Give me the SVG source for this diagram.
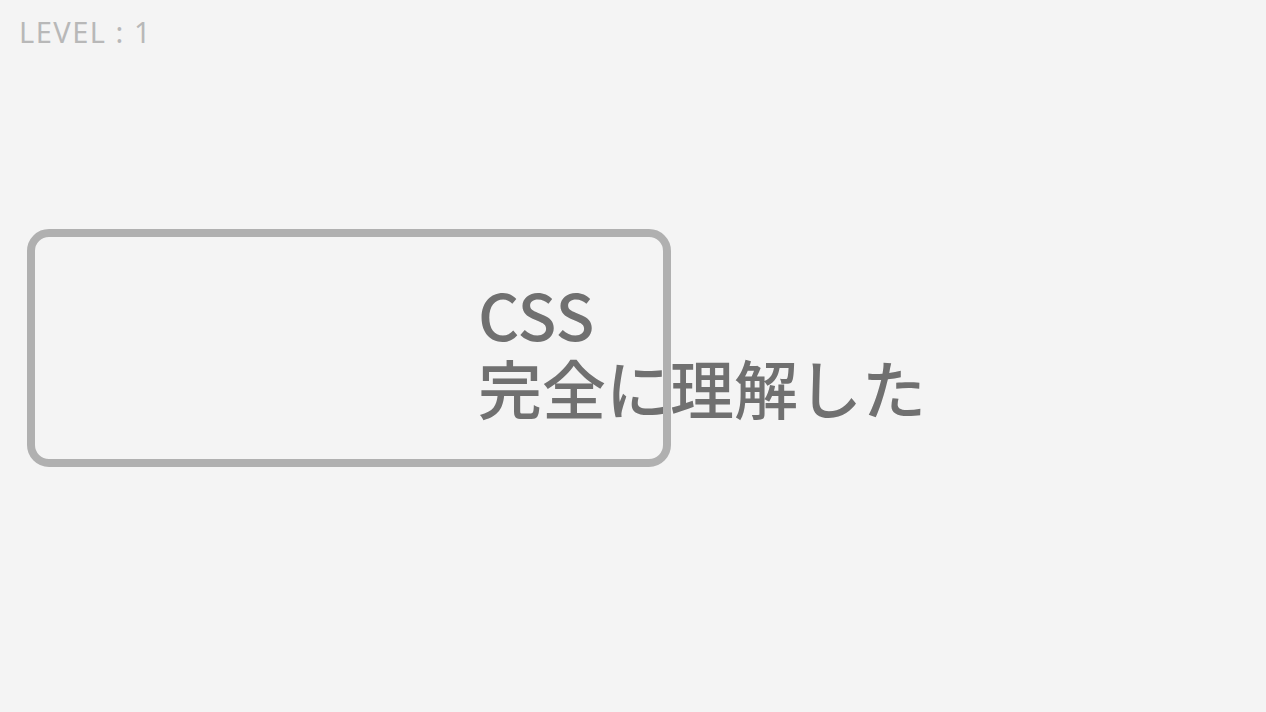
<svg xmlns="http://www.w3.org/2000/svg" width="1266" height="712" viewBox="0 0 1266 712">
<style>
.lvl{font-family:"Noto Sans","Liberation Sans",sans-serif;font-size:29px;letter-spacing:1.5px;fill:#b8b8b8}
.big{font-family:"Noto Sans CJK JP","Noto Sans",sans-serif;font-size:64px;font-weight:500;fill:#707070}
.box{fill:none;stroke:#b0b0b0;stroke-width:8}
</style>
<rect width="1266" height="712" fill="#f4f4f4"/>
<text class="lvl" x="19" y="43">LEVEL : 1</text>
<g id="node-css">
<text class="big" x="478"><tspan x="478" y="341">CSS</tspan><tspan x="478" y="414">完全に理解した</tspan></text>
<rect class="box" x="31" y="233" width="636" height="230" rx="18"/>
</g>
<g id="connectors"/>
</svg>
